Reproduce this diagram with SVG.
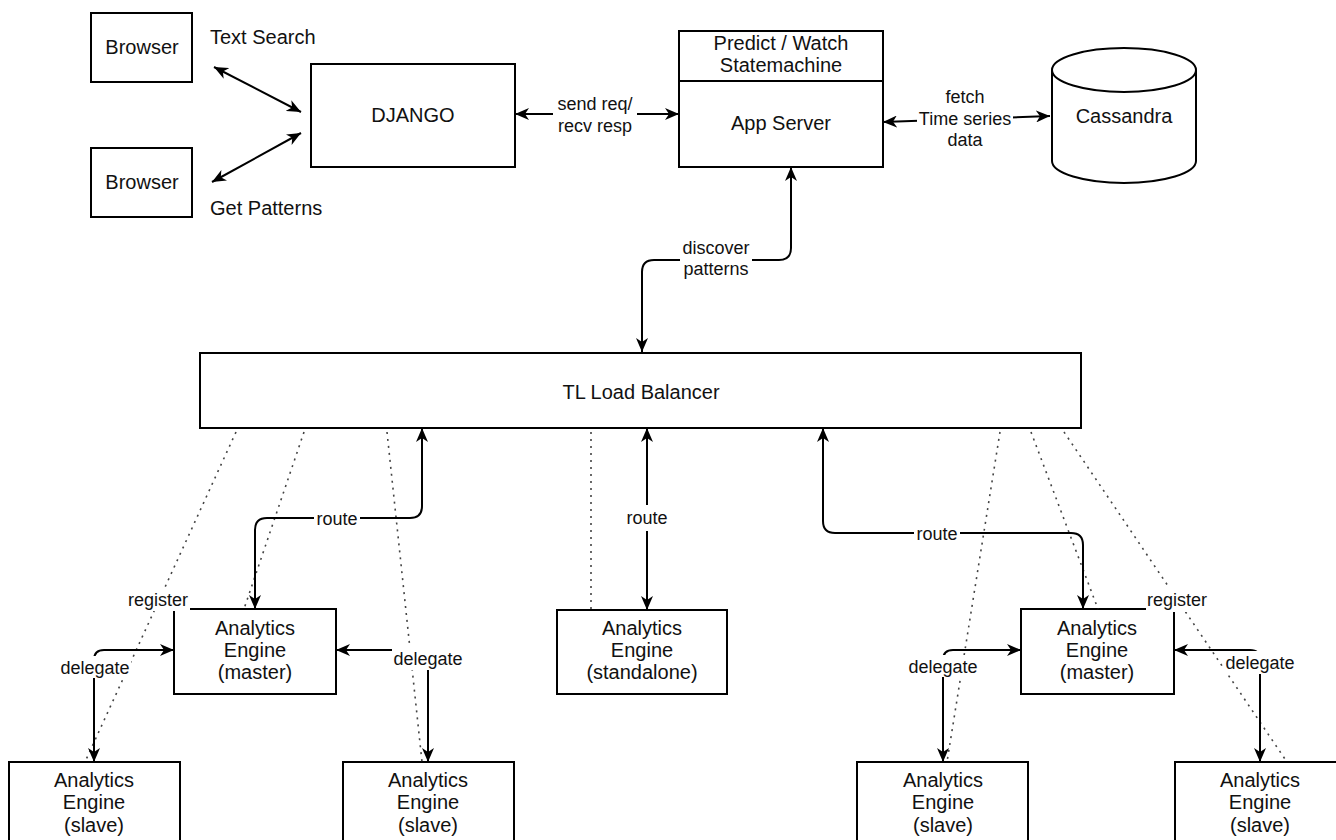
<svg xmlns="http://www.w3.org/2000/svg" width="1336" height="840" viewBox="0 0 1336 840">
<style>
.box{fill:#fff;stroke:#000;stroke-width:2}
.t{font-family:"Liberation Sans",Arial,Helvetica,sans-serif;font-size:20px;fill:#111;text-anchor:middle}
.ts{font-family:"Liberation Sans",Arial,Helvetica,sans-serif;font-size:20px;fill:#111}
.lb{font-family:"Liberation Sans",Arial,Helvetica,sans-serif;font-size:18px;fill:#111;text-anchor:middle}
.c{fill:none;stroke:#000;stroke-width:2;marker-start:url(#ah);marker-end:url(#ah)}
.d{fill:none;stroke:#444;stroke-width:1.6;stroke-dasharray:2 5}
.bg{fill:#fff}
</style>
<defs>
<marker id="ah" viewBox="0 0 14 12" refX="14" refY="6" markerWidth="14" markerHeight="12" markerUnits="userSpaceOnUse" orient="auto-start-reverse">
<path d="M0,0 L14,6 L0,12 L4,6 Z" fill="#000"/>
</marker>
</defs>
<rect width="1336" height="840" fill="#fff"/>

<g id="browser1"><rect class="box" x="91" y="13" width="101" height="69"/><text class="t" x="142" y="54">Browser</text></g>
<g id="browser2"><rect class="box" x="91" y="148" width="101" height="69"/><text class="t" x="142" y="189">Browser</text></g>
<g id="label-text-search"><text class="ts" x="210" y="44">Text Search</text></g>
<g id="label-get-patterns"><text class="ts" x="210" y="215">Get Patterns</text></g>
<g id="django"><rect class="box" x="311" y="64" width="204" height="103"/><text class="t" x="413" y="122">DJANGO</text></g>
<g id="appserver"><rect class="box" x="679" y="31" width="204" height="136"/><line x1="679" y1="81" x2="883" y2="81" stroke="#000" stroke-width="2"/><text class="t" x="781" y="50">Predict / Watch</text><text class="t" x="781" y="72">Statemachine</text><text class="t" x="781" y="130">App Server</text></g>
<g id="cassandra"><path class="box" d="M1052,70 A72,22 0 0 1 1196,70 L1196,161 A72,22 0 0 1 1052,161 Z"/><path d="M1052,70 A72,22 0 0 0 1196,70" fill="none" stroke="#000" stroke-width="2"/><text class="t" x="1124" y="123">Cassandra</text></g>
<g id="loadbalancer"><rect class="box" x="200" y="353" width="881" height="75"/><text class="t" x="641" y="399">TL Load Balancer</text></g>
<g id="master-left"><rect class="box" x="174" y="609" width="162" height="85"/><text class="t" x="255" y="635">Analytics</text><text class="t" x="255" y="657">Engine</text><text class="t" x="255" y="679">(master)</text></g>
<g id="standalone"><rect class="box" x="557" y="610" width="170" height="84"/><text class="t" x="642" y="635">Analytics</text><text class="t" x="642" y="657">Engine</text><text class="t" x="642" y="679">(standalone)</text></g>
<g id="master-right"><rect class="box" x="1021" y="609" width="153" height="85"/><text class="t" x="1097" y="635">Analytics</text><text class="t" x="1097" y="657">Engine</text><text class="t" x="1097" y="679">(master)</text></g>
<g id="slave1"><rect class="box" x="9" y="762" width="171" height="90"/><text class="t" x="94" y="787">Analytics</text><text class="t" x="94" y="809">Engine</text><text class="t" x="94" y="832">(slave)</text></g>
<g id="slave2"><rect class="box" x="343" y="762" width="171" height="90"/><text class="t" x="428" y="787">Analytics</text><text class="t" x="428" y="809">Engine</text><text class="t" x="428" y="832">(slave)</text></g>
<g id="slave3"><rect class="box" x="857" y="762" width="171" height="90"/><text class="t" x="943" y="787">Analytics</text><text class="t" x="943" y="809">Engine</text><text class="t" x="943" y="832">(slave)</text></g>
<g id="slave4"><rect class="box" x="1175" y="762" width="171" height="90"/><text class="t" x="1260" y="787">Analytics</text><text class="t" x="1260" y="809">Engine</text><text class="t" x="1260" y="832">(slave)</text></g>

<g id="connectors">
<path class="d" d="M236,432 L85,762"/>
<path class="d" d="M304,432 L244,609"/>
<path class="d" d="M387,432 L422,762"/>
<path class="d" d="M591,432 L591,610"/>
<path class="d" d="M1000,432 L947,762"/>
<path class="d" d="M1031,432 L1098,609"/>
<path class="d" d="M1064,432 L1287,762"/>

<path class="c" d="M214,67 L301,112"/>
<path class="c" d="M301,133 L212,182"/>
<path class="c" d="M515,114 L679,114"/>
<path class="c" d="M883,122 L1050,116"/>
<path class="c" d="M791,167 L791,248 Q791,260 779,260 L654,260 Q642,260 642,272 L642,352"/>
<path class="c" d="M422,428 L422,506 Q422,518 410,518 L267,518 Q255,518 255,530 L255,609"/>
<path class="c" d="M647,428 L647,610"/>
<path class="c" d="M823,428 L823,521 Q823,533 835,533 L1071,533 Q1083,533 1083,545 L1083,609"/>
<path class="c" d="M174,650 L104,650 Q94,650 94,660 L94,762"/>
<path class="c" d="M336,650 L418,650 Q428,650 428,660 L428,762"/>
<path class="c" d="M1021,650 L953,650 Q943,650 943,660 L943,762"/>
<path class="c" d="M1174,650 L1250,650 Q1260,650 1260,660 L1260,762"/>

<rect class="bg" x="553" y="92" width="84" height="44"/>
<text class="lb" x="595" y="109.5">send req/</text><text class="lb" x="595" y="131.5">recv resp</text>
<rect class="bg" x="917" y="86" width="96" height="64"/>
<text class="lb" x="965" y="102.5">fetch</text><text class="lb" x="965" y="124.5">Time series</text><text class="lb" x="965" y="145.5">data</text>
<rect class="bg" x="680" y="235" width="72" height="44"/>
<text class="lb" x="716" y="253.5">discover</text><text class="lb" x="716" y="274.5">patterns</text>
<rect class="bg" x="314" y="507" width="46" height="22"/><text class="lb" x="337" y="524.5">route</text>
<rect class="bg" x="624" y="505" width="46" height="26"/><text class="lb" x="647" y="523.5">route</text>
<rect class="bg" x="914" y="522" width="46" height="22"/><text class="lb" x="937" y="539.5">route</text>
<rect class="bg" x="127" y="588" width="63" height="23"/><text class="lb" x="158" y="605.5">register</text>
<rect class="bg" x="1146" y="588" width="63" height="24"/><text class="lb" x="1177" y="605.5">register</text>
<rect class="bg" x="59" y="656" width="72" height="22"/><text class="lb" x="95" y="673.5">delegate</text>
<rect class="bg" x="392" y="647" width="72" height="23"/><text class="lb" x="428" y="664.5">delegate</text>
<rect class="bg" x="907" y="655" width="72" height="22"/><text class="lb" x="943" y="672.5">delegate</text>
<rect class="bg" x="1224" y="651" width="72" height="23"/><text class="lb" x="1260" y="668.5">delegate</text>
</g>
</svg>
